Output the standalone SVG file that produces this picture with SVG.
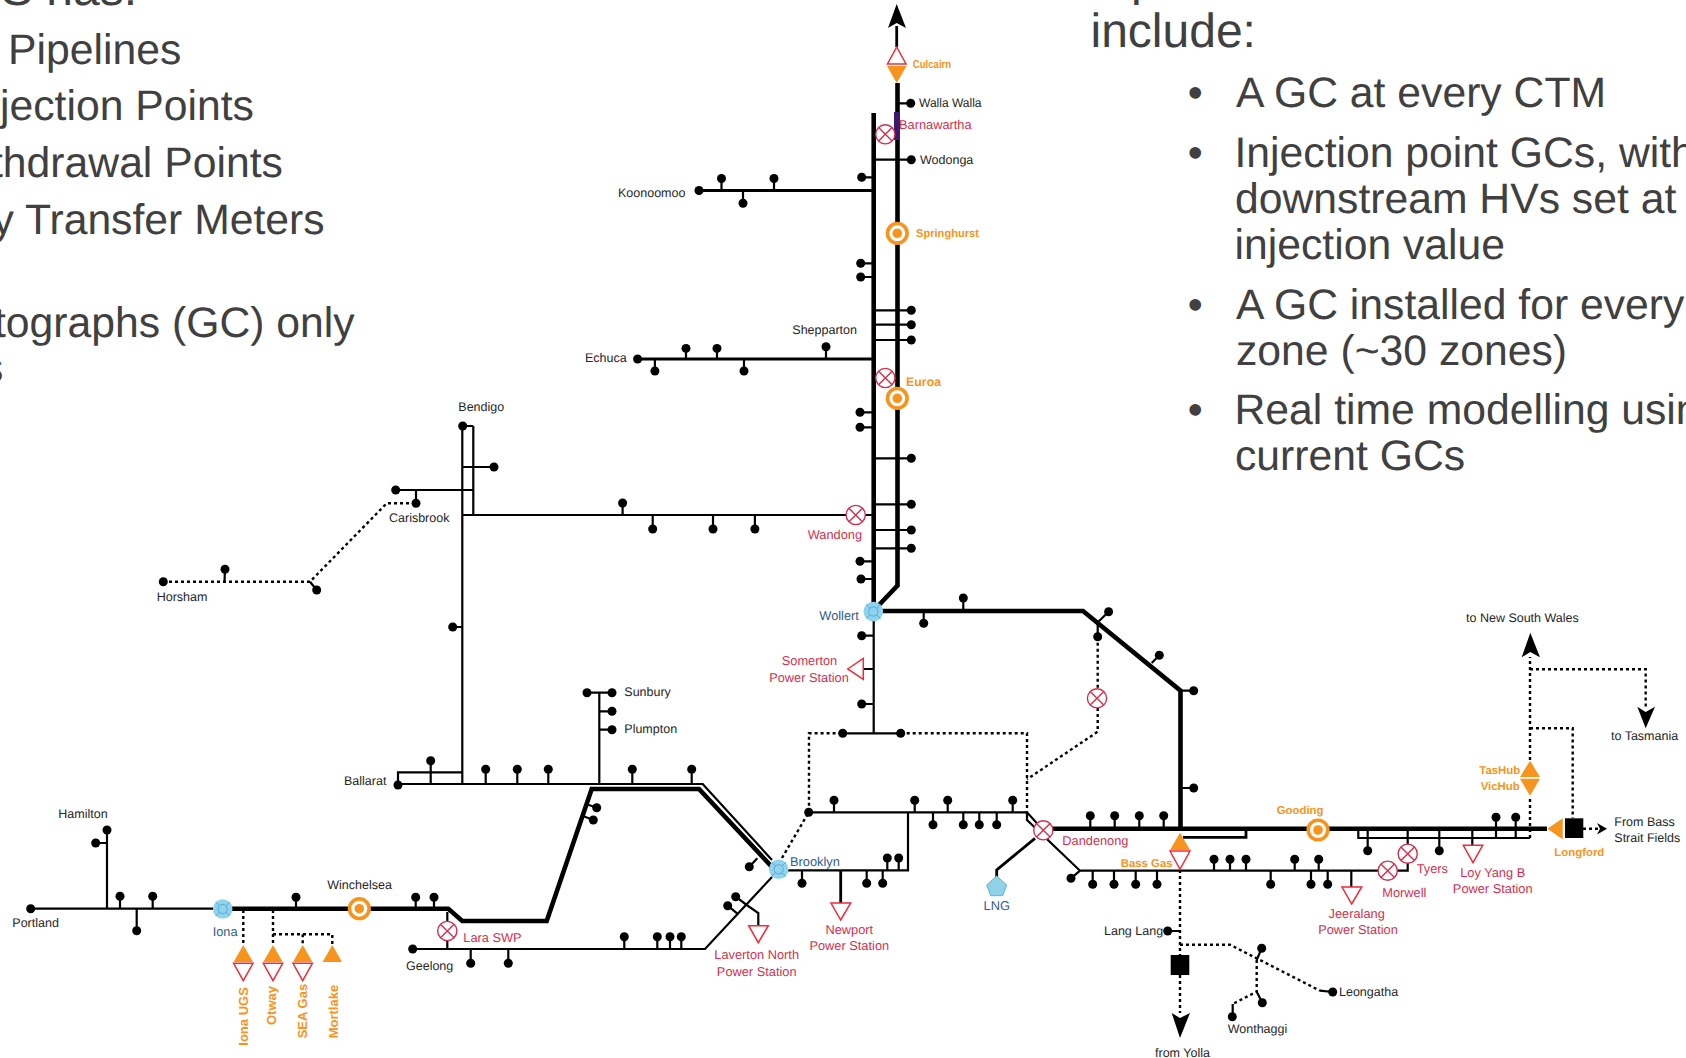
<svg xmlns="http://www.w3.org/2000/svg" width="1686" height="1058" viewBox="0 0 1686 1058">
<style>
text{font-family:"Liberation Sans",Arial,sans-serif;text-rendering:geometricPrecision}
.k{font-size:12.5px;fill:#262626}
.r{font-size:12.8px;fill:#d2304e}
.b{font-size:12.8px;fill:#2f5d8c}
.o{font-size:11.4px;font-weight:bold;fill:#f7941d}
.ov{font-size:13px;font-weight:bold;fill:#f7941d}
.big{font-size:42.7px;fill:#404040}
.hd{font-size:48px;fill:#404040}
.m{text-anchor:middle}
path{fill:none;stroke:#000}
.th{stroke-width:4.6}
.t{stroke-width:2.2}
.md{stroke-width:2.8}
.do{stroke-width:2.4;stroke-dasharray:3 3}
.d{fill:#000;r:4.5px}
.fo{fill:#f7941d;stroke:none}
.fw{fill:#fff;stroke:#ee2b3a;stroke-width:1.5}
.ah{fill:#000;stroke:none}
</style>
<defs>
<g id="xv"><circle r="9.6" fill="#fff" stroke="#d2304e" stroke-width="1.4"/><path d="M-6.8 -6.8L6.8 6.8M-6.8 6.8L6.8 -6.8" style="stroke:#d2304e;stroke-width:1.4"/></g>
<g id="ring"><circle r="9.8" fill="#fff" stroke="#f7941d" stroke-width="3.6"/><circle r="4.8" fill="#f7941d"/></g>
<g id="hub"><circle r="9.8" fill="#8fd3ee"/><circle r="4.6" fill="none" stroke="#5aa9d2" stroke-width="1"/><path d="M-7 -7L-3.2 -3.2M7 -7L3.2 -3.2M-7 7L-3.2 3.2M7 7L3.2 3.2" style="stroke:#5aa9d2;stroke-width:1"/></g>
</defs>
<rect width="1686" height="1058" fill="#fff"/>

<g id="text-left">
<text class="hd" x="1" y="5">S has:</text>
<text class="big" x="8" y="64">Pipelines</text>
<text class="big" x="0" y="120">jection Points</text>
<text class="big" x="-9" y="176.7">thdrawal Points</text>
<text class="big" x="-7.5" y="233.7">y Transfer Meters</text>
<text class="big" x="-6" y="336.7">tographs (GC) only</text>
<text class="big" x="-18" y="381.7">s</text>
</g>
<g id="text-right">
<text class="hd" x="1131" y="-5">p</text>
<text class="hd" x="1090.5" y="46.7">include:</text>
<text class="big" x="1187.7" y="106.7">•</text><text class="big" x="1236" y="106.7">A GC at every CTM</text>
<text class="big" x="1187.7" y="166.7">•</text><text class="big" x="1234.5" y="166.7">Injection point GCs, with</text>
<text class="big" x="1235" y="213.3">downstream HVs set at</text>
<text class="big" x="1234.5" y="259">injection value</text>
<text class="big" x="1187.7" y="319.3">•</text><text class="big" x="1236" y="319.3">A GC installed for every</text>
<text class="big" x="1236" y="365">zone (~30 zones)</text>
<text class="big" x="1187.7" y="424">•</text><text class="big" x="1234.5" y="424">Real time modelling usin</text>
<text class="big" x="1235" y="470">current GCs</text>
</g>

<g id="connectors">
<path class="th" d="M897.5 83V585.5L878 606"/>
<path class="th" d="M873.7 113V606"/>
<path class="th" d="M880 611H1083L1180.5 690.7V829"/>
<path class="th" d="M1052 828.7H1547"/>
<path class="th" d="M232 908.7H448.3L462.3 921H546.7L591.7 789H699L772 867"/>
<path class="t" d="M31 908.7H213M107 908.7V830M107 843H96M120 908.7V896M152.7 908.7V896M136.7 908.7V930M296 908.7V897M415.7 908.7V897M434 908.7V897"/>
<path class="t" d="M447.3 912V949M412.7 949H705L772 877M470.7 949V963M508.3 949V963M624.3 949V937M657.3 949V937M670 949V937M681.3 949V937"/>
<path class="t" d="M735.7 896.7L746.7 905L758.3 913V925.5M727.7 905.7L738.3 914.3"/>
<path class="t" d="M398 784H702.7L772 860M398 784V772.3H462.3M462.3 426V783M473.3 426V515M462.3 426H473.3M395.7 490H473.3M462.3 467H494M416 490V503M462.3 515H846M452.7 627H462.3"/>
<path class="t" d="M622.6 515V503M652.7 515V529M713 515V529M754.9 515V529M430.7 760.7V783M485.7 769V783M517.3 769V783M548.3 769V783M632.3 769V783M691.7 769V783"/>
<path class="t" d="M599.3 783V692.7M587 692.7H612M599.3 711.3H612M599.3 729.7H612M596.7 807.7L586 804M593.3 820L583 816M749.3 866.7L757.3 858.3"/>
<path class="t" d="M861.7 177.3H873M860.7 263.3H873M860.7 277H873M860 412.3H873M860 427.3H873M860 561.3H873M861 579H873"/>
<path class="md" d="M699 190.5H873M637.6 359H873"/>
<path class="t" d="M721.5 190.5V178.5M774 190.5V178.5M743 190.5V203M686 359V348.4M717 359V348.4M826 359V346.7M654.9 359V371M744 359V371"/>
<path class="t" d="M897.5 103.3H911M874 159.7H911M874 310.3H911M874 324.7H911M874 340H911M874 458.3H911M874 504.3H911M874 530H911M874 548.3H911M865 515H874"/>
<path class="t" d="M873.7 611V733.3M861.7 635.7H873M863 669H873M861.7 704H873M842.7 733.3H900.7M963.3 611V598M923.7 611V623"/>
<path class="t" d="M1108.6 611.8L1096 624M1097.7 623V636.7M1159.3 655.3L1151.7 663M1180.5 690.7H1193.7M1180.5 788H1193.7"/>
<path class="t" d="M788 870.3H908V812.3M808.7 812.3H1027L1043 830M1027 812V820L1080 870.7H1378M834 812.3V800M914.7 812.3V800M947.7 812.3V800M1012.7 812.3V800M933 812.3V825M963.3 812.3V825M979.3 812.3V825M996.7 812.3V825M887.3 858V870M898.7 858V870M802 870.3V883M866.7 870.3V883M882.7 870.3V883"/>
<path class="md" d="M840.7 870V903M1035 838.3L996.7 870V877"/>
<path class="t" d="M1090.3 815.7V828M1114.7 815.7V828M1139.3 815.7V828M1163.7 815.7V828M1092.7 870.7V884M1114 870.7V884M1135.7 870.7V884M1157 870.7V884M1270.7 870.7V884M1311 870.7V884M1327.7 870.7V884M1214 859V870.7M1230 859V870.7M1246 859V870.7M1294.7 859V870.7M1318.7 859V870.7M1071 878.3L1080 870.7M1351.3 870.7V887M1397 870.7H1407.7V863M1407.7 844V828.7"/>
<path class="md" d="M1183 837.3H1246V830"/>
<path class="t" d="M1358.3 828.7V838H1530M1367.7 828.7V850.7M1439.3 828.7V850.7M1472.3 828.7V845M1496 838V817M1515.7 838V817M1167.7 931H1180M225 569.3L224.5 581.7M310 581.7L316.7 590M1320 990.7L1332.7 992M1261.7 948.3L1256.7 960M1256.7 991.7L1262.3 1002.7M1232.7 1004V1016.7"/>
<path class="do" d="M163 581.7H310L386.7 503.3H416"/>
<path class="do" d="M809 811.7V733.3H842M900.7 733.3H1027V811.7"/>
<path class="do" d="M1097.7 636.7V688M1097.7 708V731.7L1027 779.3M782 858L808.7 812.3"/>
<path class="do" d="M243.3 910V945M273 910V945M273 934.3H332.3V945M302.7 934.3V945"/>
<path class="do" d="M1180 870V955M1180 975V1013M1180 944.7H1230L1320 990.7M1256.7 960V991.7L1232.7 1004"/>
<path class="do" d="M1530 838V796M1530 760V657M1530 669.3H1645.7V707M1530 728.3H1572.7V818.3M1583 828.7H1598"/>
<path class="md" d="M896.7 47V26"/>
<polygon class="ah" points="896.7,4 906,28 896.7,23 888,28"/>
<polygon class="ah" points="1180,1038 1171.7,1013 1180,1018 1190,1013"/>
<polygon class="ah" points="1530.3,632.7 1540,657.3 1530.3,652 1521.7,657.3"/>
<polygon class="ah" points="1645.7,728.3 1637.3,706.7 1645.7,712 1655,706.7"/>
<polygon class="ah" points="1607,828.7 1597,823 1600,828.7 1597,834.4"/>
</g>

<g id="n-culcairn"><polygon class="fw" points="896.7,47 906,64 887.5,64"/><polygon class="fo" points="887,66 906.5,66 896.7,83"/><text class="o" x="912.7" y="68" textLength="38.5" lengthAdjust="spacingAndGlyphs">Culcairn</text></g>
<g id="n-wallawalla"><circle class="d" cx="910.7" cy="103.3"/><text class="k" x="919" y="107" textLength="62.5" lengthAdjust="spacingAndGlyphs">Walla Walla</text></g>
<g id="n-barnawartha"><rect x="894" y="112" width="6" height="28" fill="#3a1a6a"/><use href="#xv" x="885.3" y="134.3"/><text class="r" x="899" y="128.7">Barnawartha</text></g>
<g id="n-wodonga"><circle class="d" cx="911.3" cy="159.7"/><text class="k" x="920" y="163.7">Wodonga</text></g>
<g id="n-springhurst"><use href="#ring" x="897.3" y="233.3"/><text class="o" x="916" y="236.7" textLength="63" lengthAdjust="spacingAndGlyphs">Springhurst</text></g>
<g id="n-koonoomoo"><circle class="d" cx="699" cy="190.5"/><text class="k" x="618" y="196.5">Koonoomoo</text></g>
<g id="n-shepparton"><circle class="d" cx="826" cy="346.7"/><text class="k" x="792.3" y="334.3">Shepparton</text></g>
<g id="n-echuca"><circle class="d" cx="637.6" cy="359"/><text class="k" x="585" y="361.5">Echuca</text></g>
<g id="n-v-euroa"><use href="#xv" x="885.3" y="378"/></g>
<g id="n-euroa"><use href="#ring" x="897.3" y="398.3"/><text class="o" x="906" y="385.7" style="font-size:12.4px">Euroa</text></g>
<g id="n-wandong"><use href="#xv" x="855.7" y="515"/><text class="r" x="807.7" y="539.3">Wandong</text></g>
<g id="n-wollert"><use href="#hub" x="873.3" y="611.5"/><text class="b" x="819.3" y="620">Wollert</text></g>
<g id="n-somerton"><polygon class="fw" points="847.7,669 863.3,658.3 863.3,679.3"/><text class="r m" x="809.5" y="665.3">Somerton</text><text class="r m" x="809" y="682">Power Station</text></g>
<g id="n-bendigo"><circle class="d" cx="462.7" cy="426"/><text class="k" x="458.3" y="411.3">Bendigo</text></g>
<g id="n-carisbrook"><circle class="d" cx="416" cy="503.3"/><text class="k" x="389" y="522.3">Carisbrook</text></g>
<g id="n-horsham"><circle class="d" cx="163.3" cy="581.7"/><text class="k" x="156.7" y="601.3">Horsham</text></g>
<g id="n-ballarat"><circle class="d" cx="398" cy="785"/><text class="k" x="344" y="785">Ballarat</text></g>
<g id="n-sunbury"><circle class="d" cx="612" cy="692.7"/><text class="k" x="624.3" y="696">Sunbury</text></g>
<g id="n-plumpton"><circle class="d" cx="612" cy="729.7"/><text class="k" x="624.3" y="733.3">Plumpton</text></g>
<g id="n-hamilton"><circle class="d" cx="107" cy="830"/><text class="k" x="58.3" y="818.3">Hamilton</text></g>
<g id="n-portland"><circle class="d" cx="30.7" cy="908.7"/><text class="k" x="12.3" y="927">Portland</text></g>
<g id="n-iona"><use href="#hub" x="222.7" y="909"/><text class="b" x="212.7" y="935.7">Iona</text></g>
<g id="n-winchelsea"><use href="#ring" x="359.3" y="908.7"/><text class="k" x="327.3" y="889.3">Winchelsea</text></g>
<g id="n-ionaugs"><polygon class="fo" points="243.3,945 253,962 233.6,962"/><polygon class="fw" points="233.6,963.3 253,963.3 243.3,980.7"/><text class="ov" transform="translate(248 1045.7) rotate(-90)">Iona UGS</text></g>
<g id="n-otway"><polygon class="fo" points="273,945 282.7,962 263.3,962"/><polygon class="fw" points="263.3,963.3 282.7,963.3 273,980.7"/><text class="ov" transform="translate(275.7 1025) rotate(-90)">Otway</text></g>
<g id="n-seagas"><polygon class="fo" points="302.7,945 312.4,962 293,962"/><polygon class="fw" points="293,963.3 312.4,963.3 302.7,980.7"/><text class="ov" transform="translate(307.3 1038.3) rotate(-90)">SEA Gas</text></g>
<g id="n-mortlake"><polygon class="fo" points="332.3,945 342,962 322.6,962"/><text class="ov" transform="translate(338 1038.3) rotate(-90)">Mortlake</text></g>
<g id="n-lara"><use href="#xv" x="447.3" y="931"/><text class="r" x="463.3" y="941.7">Lara SWP</text></g>
<g id="n-geelong"><circle class="d" cx="412.7" cy="949"/><text class="k" x="406" y="970">Geelong</text></g>
<g id="n-laverton"><polygon class="fw" points="748.7,925.7 768.3,925.7 758.3,942.7"/><text class="r m" x="756.7" y="959.3">Laverton North</text><text class="r m" x="756.7" y="975.7">Power Station</text></g>
<g id="n-brooklyn"><use href="#hub" x="778.7" y="869.3"/><text class="b" x="790" y="865.7">Brooklyn</text></g>
<g id="n-newport"><polygon class="fw" points="831,903 850.7,903 840.7,920"/><text class="r m" x="849.3" y="934">Newport</text><text class="r m" x="849.3" y="950">Power Station</text></g>
<g id="n-lng"><polygon points="996.7,876 1006.7,885 1002.7,895.7 990.7,895.7 986.7,885" fill="#8fd3e8" stroke="#5fb4d4" stroke-width="1"/><text class="b m" x="996.7" y="909.7">LNG</text></g>
<g id="n-v-north"><use href="#xv" x="1097" y="698.3"/></g>
<g id="n-dandenong"><use href="#xv" x="1043.3" y="830.3"/><text class="r" x="1062.3" y="844.7">Dandenong</text></g>
<g id="n-bassgas"><polygon class="fo" points="1180,832.7 1190,850 1170,850"/><polygon class="fw" points="1170,851 1190,851 1180,869.3"/><text class="o" x="1120.7" y="866.7">Bass Gas</text></g>
<g id="n-langlang"><circle class="d" cx="1167.7" cy="931"/><text class="k" x="1104" y="935">Lang Lang</text></g>
<g id="n-yolla"><rect x="1170.7" y="955" width="18.6" height="20" fill="#000"/><text class="k" x="1155" y="1056.7">from Yolla</text></g>
<g id="n-leongatha"><circle class="d" cx="1332.7" cy="992"/><text class="k" x="1339" y="996">Leongatha</text></g>
<g id="n-wonthaggi"><circle class="d" cx="1232.3" cy="1016.7"/><text class="k" x="1227.7" y="1033.3">Wonthaggi</text></g>
<g id="n-gooding"><use href="#ring" x="1318" y="830"/><text class="o" x="1276.7" y="814">Gooding</text></g>
<g id="n-jeeralang"><polygon class="fw" points="1342,887 1361.7,887 1351.7,904"/><text class="r m" x="1356.7" y="918">Jeeralang</text><text class="r m" x="1358" y="934.3">Power Station</text></g>
<g id="n-morwell"><use href="#xv" x="1387.7" y="870.7"/><text class="r" x="1382.3" y="896.7">Morwell</text></g>
<g id="n-tyers"><use href="#xv" x="1407.7" y="853.7"/><text class="r" x="1416.7" y="872.7">Tyers</text></g>
<g id="n-loyyang"><polygon class="fw" points="1463.3,845.3 1482.7,845.3 1473,862.7"/><text class="r m" x="1492.7" y="877.3">Loy Yang B</text><text class="r m" x="1492.7" y="893.3">Power Station</text></g>
<g id="n-hub"><polygon class="fo" points="1530,760.7 1540,777 1520,777"/><polygon class="fo" points="1520,778.7 1540,778.7 1530,795.7"/><text class="o" x="1479.3" y="774">TasHub</text><text class="o" x="1480.7" y="790">VicHub</text></g>
<g id="n-longford"><polygon class="fo" points="1547.3,828.7 1562.7,818.3 1562.7,839.3"/><rect x="1565" y="818.3" width="18.3" height="19.7" fill="#000"/><text class="o" x="1554.3" y="855.7">Longford</text></g>
<g id="n-nsw"><text class="k" x="1466" y="622">to New South Wales</text></g>
<g id="n-tasmania"><text class="k" x="1611" y="740">to Tasmania</text></g>
<g id="n-bass"><text class="k" x="1614.3" y="825.7">From Bass</text><text class="k" x="1614.3" y="841.7">Strait Fields</text></g>

<g id="junction-dots">
<g id="j1"><circle class="d" cx="861.7" cy="177.3"/></g><g id="j2"><circle class="d" cx="860.7" cy="263.3"/></g><g id="j3"><circle class="d" cx="860.7" cy="277"/></g><g id="j4"><circle class="d" cx="860" cy="412.3"/></g><g id="j5"><circle class="d" cx="860" cy="427.3"/></g><g id="j6"><circle class="d" cx="860" cy="561.3"/></g><g id="j7"><circle class="d" cx="861" cy="579"/></g>
<g id="j8"><circle class="d" cx="721.5" cy="178.5"/></g><g id="j9"><circle class="d" cx="774" cy="178.5"/></g><g id="j10"><circle class="d" cx="743" cy="203.2"/></g>
<g id="j11"><circle class="d" cx="686" cy="348.4"/></g><g id="j12"><circle class="d" cx="717" cy="348.4"/></g><g id="j13"><circle class="d" cx="654.9" cy="371"/></g><g id="j14"><circle class="d" cx="744" cy="371"/></g>
<g id="j15"><circle class="d" cx="911.3" cy="310.3"/></g><g id="j16"><circle class="d" cx="911.3" cy="324.7"/></g><g id="j17"><circle class="d" cx="911.3" cy="340"/></g><g id="j18"><circle class="d" cx="911.3" cy="458.3"/></g><g id="j19"><circle class="d" cx="911.3" cy="504.3"/></g><g id="j20"><circle class="d" cx="911.3" cy="530"/></g><g id="j21"><circle class="d" cx="911.3" cy="548.3"/></g>
<g id="j22"><circle class="d" cx="622.6" cy="503"/></g><g id="j23"><circle class="d" cx="652.7" cy="529"/></g><g id="j24"><circle class="d" cx="713" cy="529"/></g><g id="j25"><circle class="d" cx="754.9" cy="529"/></g>
<g id="j26"><circle class="d" cx="494" cy="467"/></g><g id="j27"><circle class="d" cx="395.7" cy="490"/></g><g id="j28"><circle class="d" cx="452.7" cy="627"/></g><g id="j29"><circle class="d" cx="225" cy="569.3"/></g><g id="j30"><circle class="d" cx="316.7" cy="590"/></g>
<g id="j31"><circle class="d" cx="430.7" cy="760.7"/></g><g id="j32"><circle class="d" cx="485.7" cy="769.3"/></g><g id="j33"><circle class="d" cx="517.3" cy="769.3"/></g><g id="j34"><circle class="d" cx="548.3" cy="769.3"/></g><g id="j35"><circle class="d" cx="632.3" cy="769.3"/></g><g id="j36"><circle class="d" cx="691.7" cy="769.3"/></g>
<g id="j37"><circle class="d" cx="587" cy="692.7"/></g><g id="j38"><circle class="d" cx="612" cy="711.3"/></g><g id="j39"><circle class="d" cx="596.7" cy="807.7"/></g><g id="j40"><circle class="d" cx="593.3" cy="820"/></g><g id="j41"><circle class="d" cx="749.3" cy="866.7"/></g>
<g id="j42"><circle class="d" cx="95.7" cy="843"/></g><g id="j43"><circle class="d" cx="120" cy="896.3"/></g><g id="j44"><circle class="d" cx="152.7" cy="896.3"/></g><g id="j45"><circle class="d" cx="136.7" cy="930.7"/></g><g id="j46"><circle class="d" cx="296" cy="897.3"/></g><g id="j47"><circle class="d" cx="415.7" cy="897.3"/></g><g id="j48"><circle class="d" cx="434" cy="897.3"/></g>
<g id="j49"><circle class="d" cx="470.7" cy="963.3"/></g><g id="j50"><circle class="d" cx="508.3" cy="963.3"/></g><g id="j51"><circle class="d" cx="624.3" cy="936.7"/></g><g id="j52"><circle class="d" cx="657.3" cy="936.7"/></g><g id="j53"><circle class="d" cx="670" cy="936.7"/></g><g id="j54"><circle class="d" cx="681.3" cy="936.7"/></g><g id="j55"><circle class="d" cx="735.7" cy="896.7"/></g><g id="j56"><circle class="d" cx="727.7" cy="905.7"/></g>
<g id="j57"><circle class="d" cx="861.7" cy="635.7"/></g><g id="j58"><circle class="d" cx="861.7" cy="704"/></g><g id="j59"><circle class="d" cx="842.7" cy="733.3"/></g><g id="j60"><circle class="d" cx="900.7" cy="733.3"/></g><g id="j61"><circle class="d" cx="963.3" cy="598"/></g><g id="j62"><circle class="d" cx="923.7" cy="623.3"/></g>
<g id="j63"><circle class="d" cx="1108.6" cy="611.8"/></g><g id="j64"><circle class="d" cx="1097.7" cy="636.7"/></g><g id="j65"><circle class="d" cx="1159.3" cy="655.3"/></g><g id="j66"><circle class="d" cx="1193.7" cy="690.7"/></g><g id="j67"><circle class="d" cx="1193.7" cy="788"/></g>
<g id="j68"><circle class="d" cx="808.7" cy="812.3"/></g><g id="j69"><circle class="d" cx="834" cy="800.3"/></g><g id="j70"><circle class="d" cx="914.7" cy="800.3"/></g><g id="j71"><circle class="d" cx="947.7" cy="800.3"/></g><g id="j72"><circle class="d" cx="1012.7" cy="800.3"/></g><g id="j73"><circle class="d" cx="933" cy="824.7"/></g><g id="j74"><circle class="d" cx="963.3" cy="824.7"/></g><g id="j75"><circle class="d" cx="979.3" cy="824.7"/></g><g id="j76"><circle class="d" cx="996.7" cy="824.7"/></g>
<g id="j77"><circle class="d" cx="887.3" cy="858"/></g><g id="j78"><circle class="d" cx="898.7" cy="858"/></g><g id="j79"><circle class="d" cx="802" cy="883.3"/></g><g id="j80"><circle class="d" cx="866.7" cy="883.3"/></g><g id="j81"><circle class="d" cx="882.7" cy="883.3"/></g>
<g id="j82"><circle class="d" cx="1090.3" cy="815.7"/></g><g id="j83"><circle class="d" cx="1114.7" cy="815.7"/></g><g id="j84"><circle class="d" cx="1139.3" cy="815.7"/></g><g id="j85"><circle class="d" cx="1163.7" cy="815.7"/></g>
<g id="j86"><circle class="d" cx="1071" cy="878.3"/></g><g id="j87"><circle class="d" cx="1092.7" cy="884.3"/></g><g id="j88"><circle class="d" cx="1114" cy="884.3"/></g><g id="j89"><circle class="d" cx="1135.7" cy="884.3"/></g><g id="j90"><circle class="d" cx="1157" cy="884.3"/></g><g id="j91"><circle class="d" cx="1270.7" cy="884.3"/></g><g id="j92"><circle class="d" cx="1311" cy="884.3"/></g><g id="j93"><circle class="d" cx="1327.7" cy="884.3"/></g>
<g id="j94"><circle class="d" cx="1214" cy="859.3"/></g><g id="j95"><circle class="d" cx="1230" cy="859.3"/></g><g id="j96"><circle class="d" cx="1246" cy="859.3"/></g><g id="j97"><circle class="d" cx="1294.7" cy="859.3"/></g><g id="j98"><circle class="d" cx="1318.7" cy="859.3"/></g>
<g id="j99"><circle class="d" cx="1367.7" cy="850.7"/></g><g id="j100"><circle class="d" cx="1439.3" cy="850.7"/></g><g id="j101"><circle class="d" cx="1496" cy="817.3"/></g><g id="j102"><circle class="d" cx="1515.7" cy="817.3"/></g><g id="j103"><circle class="d" cx="1261.7" cy="948.3"/></g><g id="j104"><circle class="d" cx="1262.3" cy="1002.7"/></g>
</g>
</svg>
